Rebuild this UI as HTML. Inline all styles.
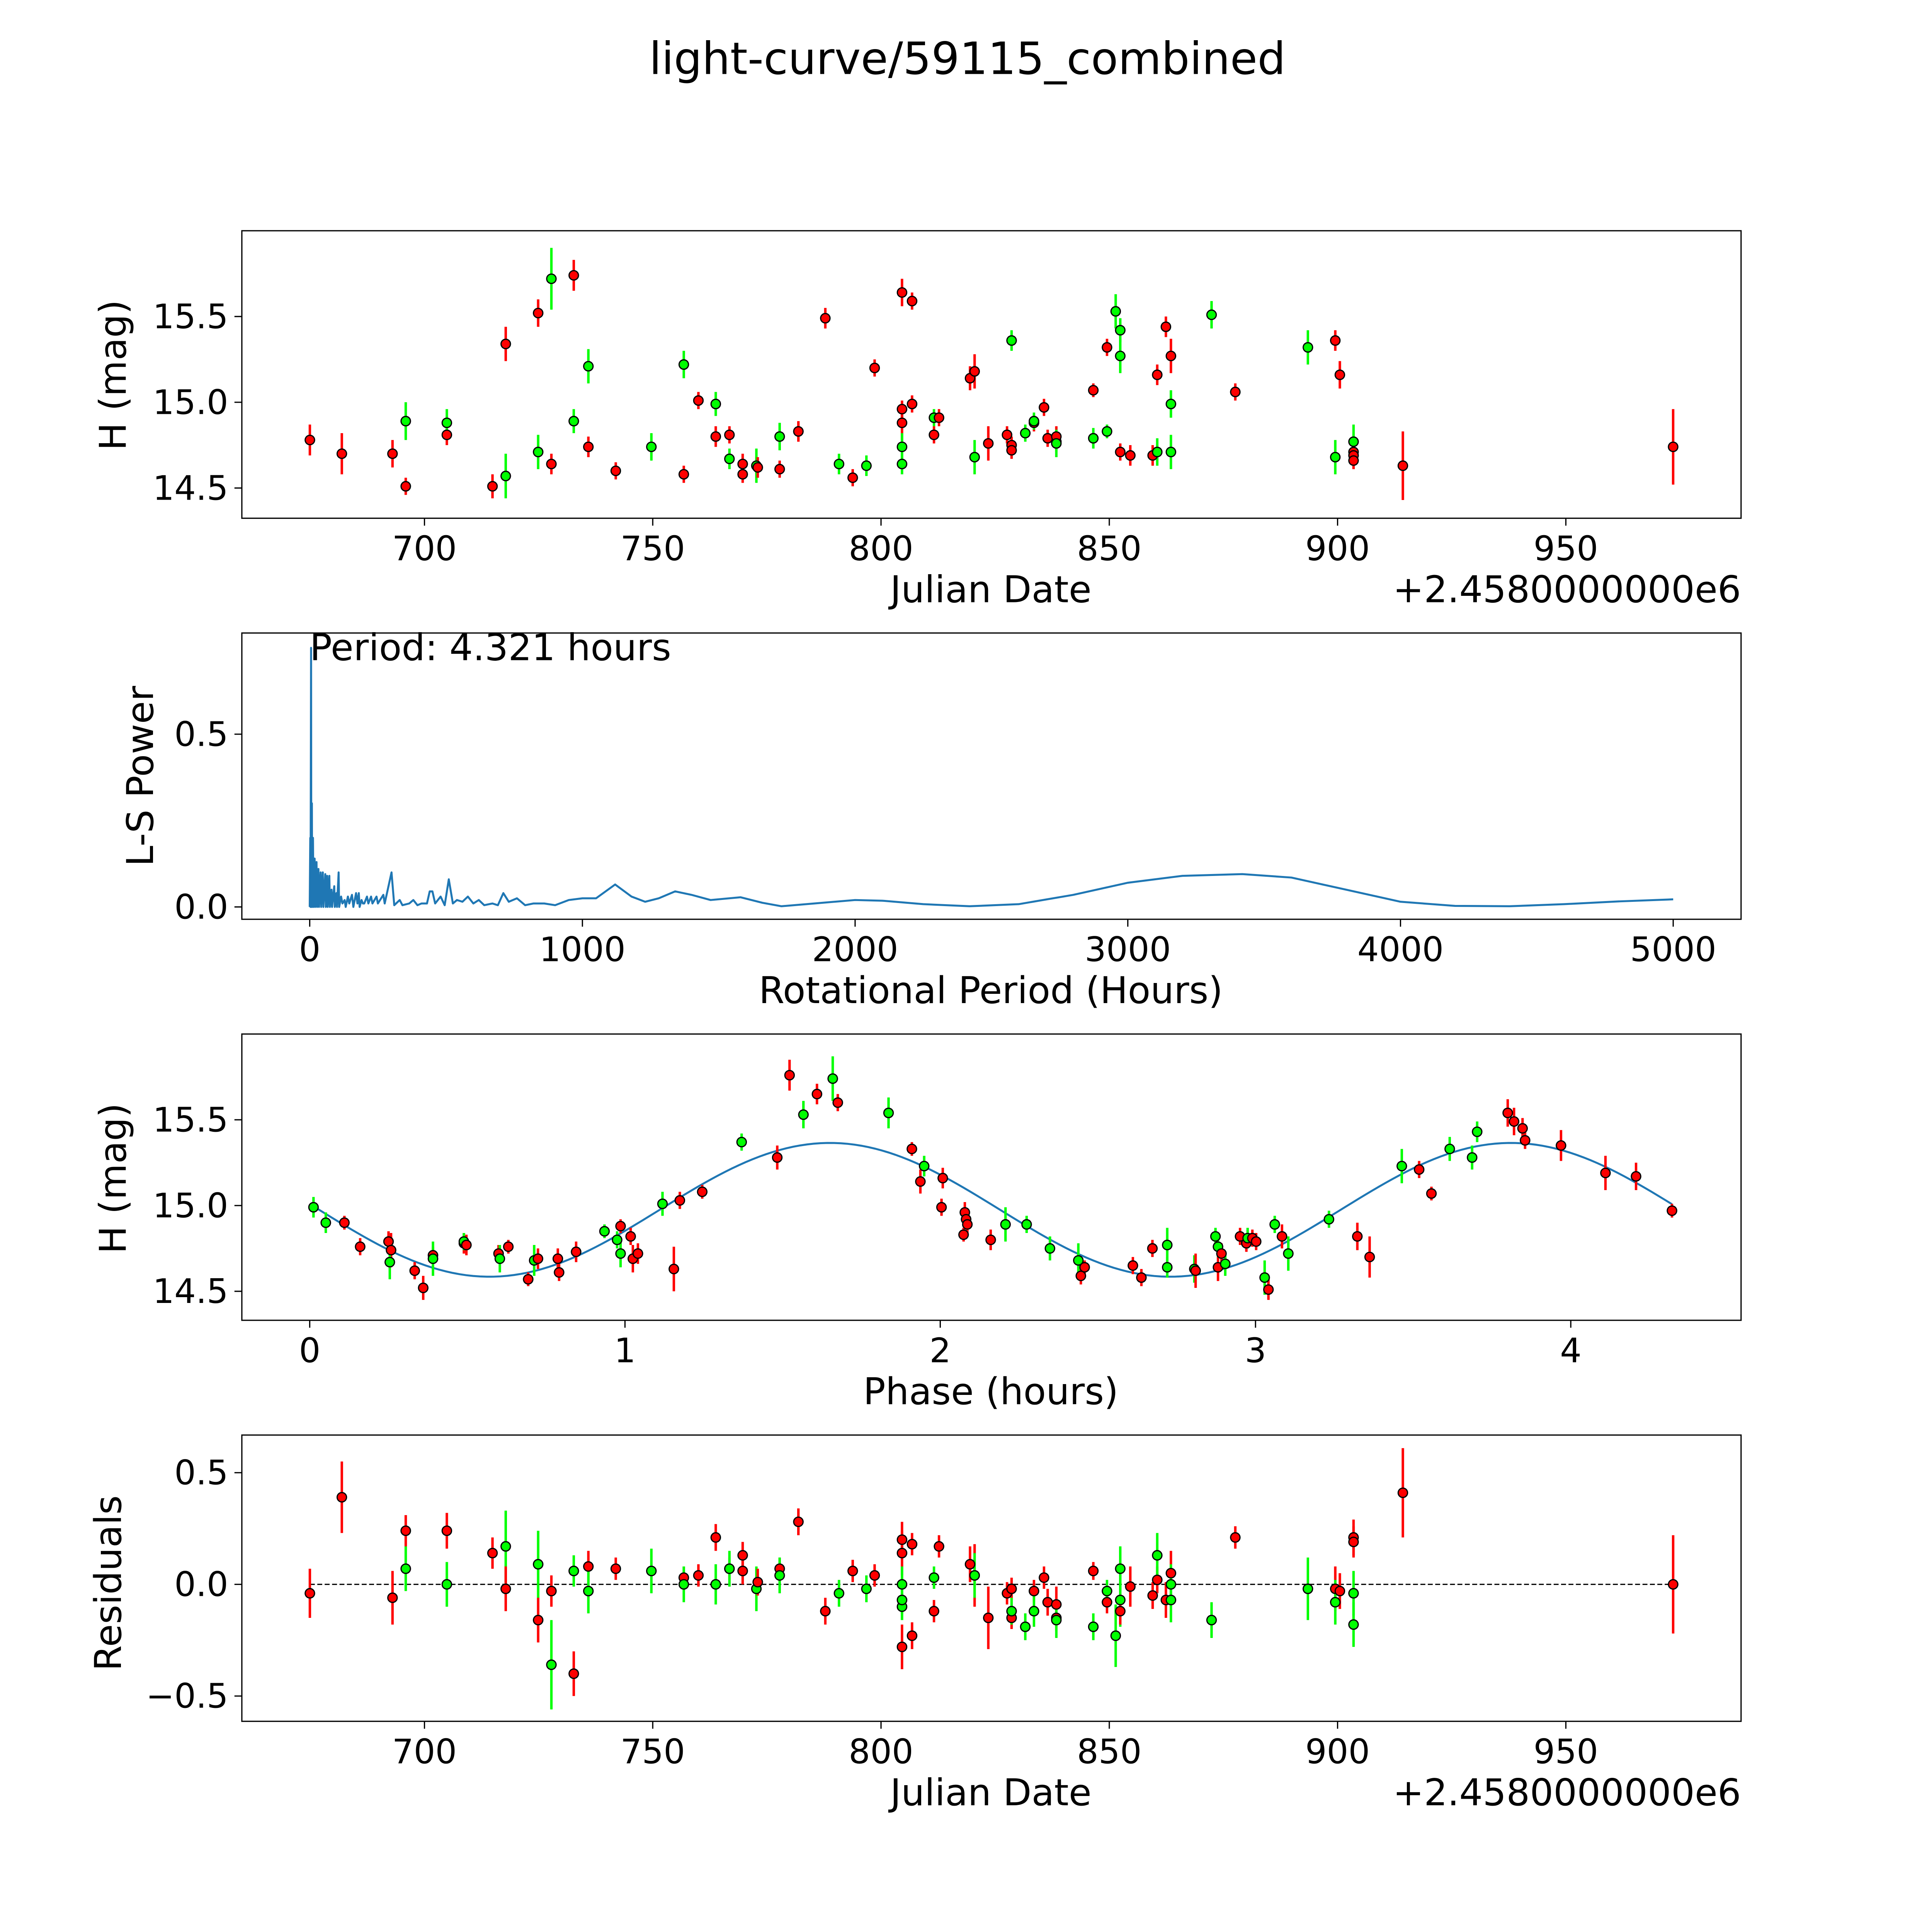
<!DOCTYPE html>
<html><head><meta charset="utf-8">
<style>
html,body{margin:0;padding:0;background:#fff;overflow:hidden;width:5400px;height:5400px;}
svg{display:block;}
text{font-family:"DejaVu Sans","Liberation Sans",sans-serif;fill:#000;}
</style></head>
<body>
<svg id="fig" width="5400" height="5400" viewBox="0 0 1691 1691" overflow="hidden" xmlns="http://www.w3.org/2000/svg">
<rect width="1691" height="1691" fill="#fff"/>
<text x="784" y="60" font-size="36" text-anchor="middle">light-curve/59115_combined</text>
</svg>
<script>
// ---- Panel 1: light curve data ----
const lcDates = [674.9,681.9,693.0,695.9,695.9,704.9,704.9,714.9,717.8,717.8,724.9,724.9,727.8,727.8,732.7,732.7,735.9,735.9,741.9,749.7,756.8,756.8,760.0,763.8,763.8,766.8,766.8,769.7,769.7,772.7,773.0,777.8,777.8,781.9,787.8,790.8,793.8,796.8,798.6,804.6,804.6,804.6,804.6,804.6,806.8,806.8,811.6,811.6,812.7,819.5,820.5,820.5,823.5,827.6,828.6,828.6,828.6,831.6,833.5,833.5,835.7,836.5,838.4,838.4,838.4,846.5,846.5,849.5,849.5,851.4,852.4,852.4,852.4,854.6,859.5,860.5,860.5,862.4,863.5,863.5,863.5,872.4,877.6,893.5,899.5,899.5,900.5,903.5,903.5,903.5,903.5,914.3,973.5];
const lcMags = [14.78,14.70,14.70,14.51,14.89,14.81,14.88,14.51,14.57,15.34,14.71,15.52,14.64,15.72,15.74,14.89,14.74,15.21,14.60,14.74,14.58,15.22,15.01,14.80,14.99,14.81,14.67,14.64,14.58,14.63,14.62,14.61,14.80,14.83,15.49,14.64,14.56,14.63,15.20,15.64,14.96,14.88,14.74,14.64,15.59,14.99,14.81,14.91,14.91,15.14,15.18,14.68,14.76,14.81,14.75,14.72,15.36,14.82,14.88,14.89,14.97,14.79,14.77,14.80,14.76,15.07,14.79,15.32,14.83,15.53,15.42,15.27,14.71,14.69,14.69,15.16,14.71,15.44,15.27,14.99,14.71,15.51,15.06,15.32,15.36,14.68,15.16,14.71,14.69,14.66,14.77,14.63,14.74];
const lcBands = ['r','r','r','r','g','r','g','r','g','r','g','r','r','g','r','g','r','g','r','g','r','g','r','r','g','r','g','r','r','g','r','r','g','r','r','g','r','g','r','r','r','r','g','g','r','r','r','g','r','r','r','g','r','r','r','r','g','g','r','g','r','r','r','r','g','r','g','r','g','g','g','g','r','r','r','r','g','r','r','g','g','g','r','g','r','g','r','r','r','r','g','r','r'];
const lcErrs = [0.09,0.12,0.08,0.05,0.11,0.06,0.08,0.07,0.13,0.1,0.1,0.08,0.06,0.18,0.09,0.07,0.06,0.1,0.05,0.08,0.05,0.08,0.05,0.06,0.07,0.05,0.06,0.06,0.05,0.1,0.06,0.05,0.08,0.06,0.06,0.06,0.05,0.06,0.05,0.08,0.05,0.1,0.08,0.06,0.05,0.05,0.05,0.05,0.05,0.07,0.1,0.1,0.1,0.05,0.05,0.05,0.06,0.05,0.05,0.05,0.05,0.05,0.06,0.06,0.08,0.04,0.06,0.05,0.04,0.1,0.07,0.1,0.05,0.06,0.06,0.06,0.08,0.06,0.1,0.08,0.1,0.08,0.05,0.1,0.06,0.1,0.08,0.05,0.05,0.05,0.1,0.2,0.22];

// ---- Panel 2: periodogram ----
const pgPeriods = [0,2,3,5,6,8,9,12,14,18,20,25,27,32,34,40,42,48,50,57,59,64,66,72,74,80,82,90,92,98,100,106,108,115,120,128,132,140,145,155,160,170,175,180,183,190,195,200,210,215,225,230,245,250,270,275,300,310,330,340,365,380,395,410,430,440,450,460,480,495,510,525,540,560,580,600,620,640,670,690,710,730,760,790,820,860,900,950,1000,1050,1120,1180,1230,1280,1340,1400,1470,1580,1660,1730,1850,2000,2100,2250,2420,2600,2800,3000,3200,3420,3600,3800,4000,4200,4400,4600,4800,5000];
const pgPowers = [0,0.2,0,0.75,0,0.3,0,0.2,0,0.14,0,0.13,0,0.11,0,0.1,0,0.1,0,0.095,0,0.09,0,0.09,0,0.05,0,0.06,0,0.04,0,0.1,0,0.03,0.01,0.02,0,0.03,0.01,0.035,0,0.04,0.01,0.04,0,0.02,0.01,0.01,0.03,0.01,0.03,0.01,0.03,0.01,0.035,0.01,0.1,0.005,0.02,0.005,0.01,0.02,0.005,0.01,0.01,0.045,0.045,0.01,0.03,0.005,0.08,0.01,0.02,0.015,0.03,0.01,0.02,0.005,0.01,0.005,0.04,0.015,0.025,0.005,0.01,0.01,0.005,0.02,0.025,0.025,0.065,0.03,0.015,0.025,0.045,0.035,0.02,0.028,0.012,0.002,0.01,0.02,0.018,0.008,0.002,0.008,0.035,0.07,0.09,0.095,0.085,0.05,0.015,0.003,0.002,0.008,0.016,0.022];

// ---- Panel 3: phase-folded ----
const phPhases = [0.012,0.051,0.110,0.160,0.250,0.258,0.254,0.333,0.360,0.391,0.391,0.489,0.489,0.497,0.599,0.603,0.630,0.693,0.712,0.724,0.787,0.791,0.845,0.935,0.975,0.986,0.986,1.018,1.025,1.041,1.155,1.119,1.174,1.245,1.370,1.483,1.522,1.566,1.609,1.659,1.675,1.836,1.910,1.949,1.937,2.004,2.008,2.078,2.082,2.086,2.074,2.207,2.160,2.274,2.348,2.438,2.446,2.458,2.611,2.638,2.673,2.720,2.720,2.806,2.810,2.873,2.881,2.881,2.904,2.892,2.951,2.971,2.975,2.990,3.002,3.029,3.041,3.061,3.084,3.104,3.233,3.323,3.362,3.464,3.519,3.558,3.616,3.687,3.703,3.800,3.820,3.847,3.855,3.969,4.110,4.207,4.321];
const phMags = [14.99,14.90,14.90,14.76,14.79,14.74,14.67,14.62,14.52,14.71,14.69,14.78,14.79,14.77,14.72,14.69,14.76,14.57,14.68,14.69,14.69,14.61,14.73,14.85,14.80,14.88,14.72,14.82,14.69,14.72,14.63,15.01,15.03,15.08,15.37,15.28,15.76,15.53,15.65,15.74,15.60,15.54,15.33,15.23,15.14,14.99,15.16,14.96,14.92,14.89,14.83,14.89,14.80,14.89,14.75,14.68,14.59,14.64,14.65,14.58,14.75,14.77,14.64,14.63,14.62,14.82,14.64,14.76,14.66,14.72,14.82,14.78,14.81,14.81,14.79,14.58,14.51,14.89,14.82,14.72,14.92,14.82,14.70,15.23,15.21,15.07,15.33,15.28,15.43,15.54,15.49,15.45,15.38,15.35,15.19,15.17,14.97];
const phBands = ['g','g','r','r','r','r','g','r','r','r','g','r','g','r','r','g','r','r','g','r','r','r','r','g','g','r','g','r','r','r','r','g','r','r','g','r','r','g','r','g','r','g','r','g','r','r','r','r','r','r','r','g','r','g','g','g','r','r','r','r','r','g','g','g','r','g','r','g','g','r','r','r','g','r','r','g','r','g','r','g','g','r','r','g','r','r','g','g','g','r','r','r','r','r','r','r','r'];
const phErrs = [0.06,0.06,0.04,0.05,0.06,0.1,0.1,0.05,0.07,0.05,0.1,0.06,0.05,0.06,0.05,0.08,0.04,0.04,0.09,0.06,0.06,0.05,0.06,0.04,0.05,0.04,0.08,0.05,0.08,0.06,0.13,0.07,0.05,0.04,0.05,0.07,0.09,0.08,0.06,0.13,0.05,0.09,0.04,0.06,0.07,0.05,0.06,0.06,0.06,0.06,0.04,0.1,0.06,0.05,0.07,0.1,0.05,0.04,0.05,0.05,0.05,0.1,0.06,0.08,0.1,0.05,0.08,0.06,0.07,0.06,0.05,0.05,0.06,0.05,0.05,0.1,0.06,0.05,0.07,0.1,0.05,0.08,0.12,0.1,0.05,0.04,0.07,0.07,0.06,0.08,0.08,0.06,0.05,0.09,0.1,0.08,0.04];
// sinusoidal fit parameters: mean, amplitude, period (h), phase of max (h)
const fitParams = [14.975, 0.39, 2.16, 1.65];

// ---- Panel 4: residuals ----
const rsDates = [674.9,681.9,693.0,695.9,695.9,704.9,704.9,714.9,717.8,717.8,724.9,724.9,727.8,727.8,732.7,732.7,735.9,735.9,741.9,749.7,756.8,756.8,760.0,763.8,763.8,766.8,766.8,769.7,769.7,772.7,773.0,777.8,777.8,781.9,787.8,790.8,793.8,796.8,798.6,804.6,804.6,804.6,804.6,804.6,804.6,806.8,806.8,811.6,811.6,812.7,819.5,820.5,820.5,823.5,827.6,828.6,828.6,828.6,831.6,833.5,833.5,835.7,836.5,838.4,838.4,838.4,846.5,846.5,849.5,849.5,851.4,852.4,852.4,852.4,854.6,859.5,860.5,860.5,862.4,863.5,863.5,863.5,872.4,877.6,893.5,899.5,899.5,900.5,903.5,903.5,903.5,903.5,914.3,973.5];
const rsVals = [-0.04,0.39,-0.06,0.24,0.07,0.24,0.00,0.14,0.17,-0.02,0.09,-0.16,-0.03,-0.36,-0.40,0.06,0.08,-0.03,0.07,0.06,0.03,0.00,0.04,0.21,0.00,0.07,0.07,0.13,0.06,-0.02,0.01,0.07,0.04,0.28,-0.12,-0.04,0.06,-0.02,0.04,0.20,-0.28,0.14,0.00,-0.10,-0.07,0.18,-0.23,-0.12,0.03,0.17,0.09,0.04,0.04,-0.15,-0.04,-0.02,-0.15,-0.12,-0.19,-0.03,-0.12,0.03,-0.08,-0.15,-0.09,-0.16,0.06,-0.19,-0.08,-0.03,-0.23,0.07,-0.07,-0.12,-0.01,-0.05,0.02,0.13,-0.07,0.05,-0.07,0.00,-0.16,0.21,-0.02,-0.02,-0.08,-0.03,0.21,0.19,-0.04,-0.18,0.41,0.00];
const rsBands = ['r','r','r','r','g','r','g','r','g','r','g','r','r','g','r','g','r','g','r','g','r','g','r','r','g','r','g','r','r','g','r','r','g','r','r','g','r','g','r','r','r','r','g','g','g','r','r','r','g','r','r','r','g','r','r','r','r','g','g','r','g','r','r','r','r','g','r','g','r','g','g','g','g','r','r','r','r','g','r','r','g','g','g','r','g','r','g','r','r','r','g','g','r','r'];
const rsErrs = [0.11,0.16,0.12,0.07,0.1,0.08,0.1,0.07,0.16,0.1,0.15,0.1,0.07,0.2,0.1,0.07,0.07,0.1,0.05,0.1,0.05,0.08,0.05,0.06,0.09,0.05,0.08,0.06,0.06,0.1,0.06,0.05,0.08,0.06,0.06,0.06,0.05,0.06,0.05,0.08,0.1,0.1,0.08,0.06,0.06,0.05,0.06,0.05,0.05,0.05,0.08,0.14,0.1,0.14,0.05,0.05,0.05,0.06,0.06,0.05,0.07,0.05,0.06,0.06,0.08,0.08,0.04,0.06,0.05,0.05,0.14,0.1,0.12,0.06,0.09,0.06,0.06,0.1,0.08,0.1,0.1,0.09,0.08,0.05,0.14,0.1,0.1,0.08,0.08,0.07,0.1,0.1,0.2,0.22];

const NS='http://www.w3.org/2000/svg';
const svg=document.getElementById('fig');
function el(tag,attrs,parent){const e=document.createElementNS(NS,tag);for(const k in attrs)e.setAttribute(k,attrs[k]);(parent||svg).appendChild(e);return e;}
function txt(s,attrs,parent){const t=el('text',attrs,parent);t.textContent=s;return t;}
const COL={r:'#ff0000',g:'#00ff00'};

// axis functions
const jdX = d => 344 + (d-700)*3.7;
const p1Y = m => 326 - (m-15.0)*139;
const pgX = p => 251 + p*0.221;
const pgY = v => 735 - v*280;
const phX = h => 251 + h*255.5;
const ph3Y = m => 977 - (m-15.0)*139;
const rsY = v => 1284 - v*181;

function frame(name,y0,y1){
  const r=el('rect',{x:196,y:y0,width:1215,height:y1-y0,fill:'none',stroke:'#000','stroke-width':1});
  
  
}
function xTicks(name,vals,labels,fx,yb){
  const g=el('g',{});
  
  
  vals.forEach((v,i)=>{const x=fx(v);el('line',{x1:x,x2:x,y1:yb,y2:yb+6,stroke:'#000','stroke-width':1},g);
    txt(labels[i],{x:x,y:yb+34,'font-size':27.5,'text-anchor':'middle'},g);});
}
function yTicks(name,vals,labels,fy){
  const g=el('g',{});
  
  
  vals.forEach((v,i)=>{const y=fy(v);el('line',{x1:190,x2:196,y1:y,y2:y,stroke:'#000','stroke-width':1},g);
    txt(labels[i],{x:185,y:y+9.5,'font-size':27.5,'text-anchor':'end'},g);});
}
function label(name,s,x,y,rot){
  const t=txt(s,{x:x,y:y,'font-size':30,'text-anchor':'middle',transform:rot?`rotate(-90 ${x} ${y})`:''});
  
  
}
function points(name,xs,ys,errs,bands,fx,fy,scale){
  const g=el('g',{});
  
  
  xs.forEach((xv,i)=>{
    const x=fx(xv),y=fy(ys[i]),e=errs[i]*scale;
    const l=el('line',{x1:x,x2:x,y1:y-e,y2:y+e,stroke:COL[bands[i]],'stroke-width':2},g);
    
    
  });
  xs.forEach((xv,i)=>{
    const c=el('circle',{cx:fx(xv),cy:fy(ys[i]),r:3.8,fill:COL[bands[i]],stroke:'#000','stroke-width':1},g);
    
    
  });
}

const jdTicks=[700,750,800,850,900,950];
const jdLabels=['700','750','800','850','900','950'];

// Panel 1
frame('lightcurve-axes',187,420);
points('lightcurve-points',lcDates,lcMags,lcErrs,lcBands,jdX,p1Y,139);
xTicks('lightcurve-x-ticks',jdTicks,jdLabels,jdX,420);
yTicks('lightcurve-y-ticks',[14.5,15.0,15.5],['14.5','15.0','15.5'],p1Y);
label('lightcurve-x-title','Julian Date',803,488,false);
label('lightcurve-y-title','H (mag)',102,304,true);
txt('+2.4580000000e6',{x:1411,y:488,'font-size':30,'text-anchor':'end',});

// Panel 2
frame('periodogram-axes',513,745);
let d='';pgPeriods.forEach((p,i)=>{d+=(i?'L':'M')+pgX(p).toFixed(2)+' '+pgY(pgPowers[i]).toFixed(2);});
const pl=el('path',{d:d,fill:'none',stroke:'#1f77b4','stroke-width':1.6,'stroke-linejoin':'round'});


xTicks('periodogram-x-ticks',[0,1000,2000,3000,4000,5000],['0','1000','2000','3000','4000','5000'],pgX,745);
yTicks('periodogram-y-ticks',[0,0.5],['0.0','0.5'],pgY);
label('periodogram-x-title','Rotational Period (Hours)',803,813,false);
label('periodogram-y-title','L-S Power',124,629,true);
txt('Period: 4.321 hours',{x:251,y:535,'font-size':30,});

// Panel 3
frame('phase-axes',838,1070);
let fd='';for(let i=0;i<=200;i++){const h=4.321*i/200;const m=fitParams[0]+fitParams[1]*Math.cos(2*Math.PI*(h-fitParams[3])/fitParams[2]);fd+=(i?'L':'M')+phX(h).toFixed(2)+' '+ph3Y(m).toFixed(2);}
const fl=el('path',{d:fd,fill:'none',stroke:'#1f77b4','stroke-width':1.6});


points('phase-points',phPhases,phMags,phErrs,phBands,phX,ph3Y,139);
xTicks('phase-x-ticks',[0,1,2,3,4],['0','1','2','3','4'],phX,1070);
yTicks('phase-y-ticks',[14.5,15.0,15.5],['14.5','15.0','15.5'],ph3Y);
label('phase-x-title','Phase (hours)',803,1138,false);
label('phase-y-title','H (mag)',102,955,true);

// Panel 4
frame('residuals-axes',1163,1395);
const zl=el('line',{x1:jdX(rsDates[0]),x2:jdX(rsDates[rsDates.length-1]),y1:rsY(0),y2:rsY(0),stroke:'#000','stroke-width':1,'stroke-dasharray':'4,2'});


points('residual-points',rsDates,rsVals,rsErrs,rsBands,jdX,rsY,181);
xTicks('residuals-x-ticks',jdTicks,jdLabels,jdX,1395);
yTicks('residuals-y-ticks',[-0.5,0,0.5],['\u22120.5','0.0','0.5'],rsY);
label('residuals-x-title','Julian Date',803,1463,false);
label('residuals-y-title','Residuals',98,1283,true);
txt('+2.4580000000e6',{x:1411,y:1463,'font-size':30,'text-anchor':'end',});
</script>
</body></html>
